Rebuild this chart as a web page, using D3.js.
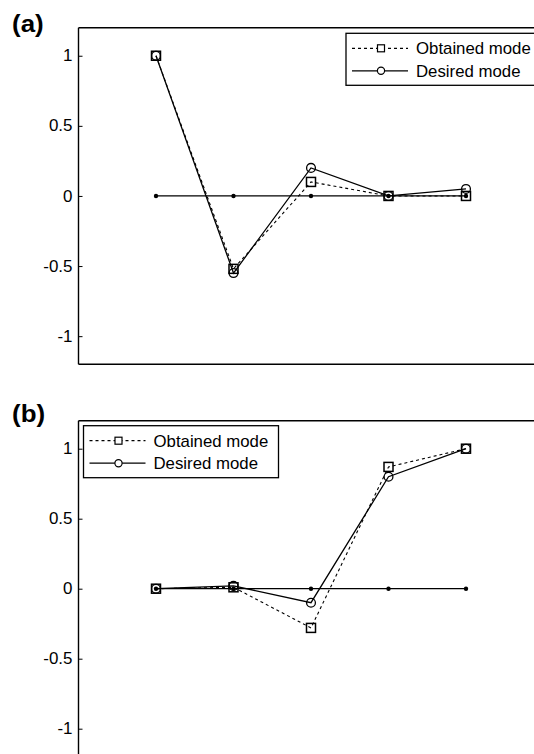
<!DOCTYPE html>
<html>
<head>
<meta charset="utf-8">
<script src="https://cdn.jsdelivr.net/npm/d3@7/dist/d3.min.js"></script>
<style>
  html, body { margin: 0; padding: 0; background: #fff; overflow: hidden; }
  svg { display: block; font-family: "Liberation Sans", Arial, sans-serif; }
</style>
</head>
<body>
<svg id="chart" width="534" height="754"></svg>
<script>
// data
const xIdx = [1, 2, 3, 4, 5];
const yTicks = [-1, -0.5, 0, 0.5, 1];
const yTickLabels = ["-1", "-0.5", "0", "0.5", "1"];
const zeroLine = [0, 0, 0, 0, 0];
const obtainedA = [1, -0.52, 0.10, 0, 0];
const desiredA = [1, -0.55, 0.20, 0, 0.05];
const obtainedB = [0, 0.01, -0.28, 0.87, 1];
const desiredB = [0, 0.02, -0.10, 0.80, 1];
const legendLabels = ["Obtained mode", "Desired mode"];
const panelLabels = ["(a)", "(b)"];

const svg = d3.select("#chart");
const left = 78.5;
const plotW = 465;   // x domain 0..6, right part runs out of the picture
const xScale = d3.scaleLinear().domain([0, 6]).range([0, plotW]);

function drawPanel(o) {
  const y = d3.scaleLinear().domain([-1.2, 1.2]).range([o.height, 0]);
  const g = svg.append("g").attr("transform", "translate(" + left + "," + o.top + ")");

  // frame (top, bottom, left)
  g.append("line").attr("x1", 0).attr("x2", plotW + 20).attr("y1", 0).attr("y2", 0)
    .attr("stroke", "#000").attr("stroke-width", 1.4);
  g.append("line").attr("x1", 0).attr("x2", plotW + 20).attr("y1", o.height).attr("y2", o.height)
    .attr("stroke", "#000").attr("stroke-width", 1.4);

  const ax = g.append("g")
    .call(d3.axisLeft(y).tickValues(yTicks).tickSize(-4).tickSizeOuter(0).tickPadding(6)
      .tickFormat((d, i) => yTickLabels[i]));
  ax.select(".domain").remove();
  g.append("line").attr("x1", 0).attr("x2", 0).attr("y1", 0).attr("y2", o.height)
    .attr("stroke", "#000").attr("stroke-width", 1.4);
  ax.selectAll(".tick line").attr("stroke", "#000").attr("stroke-width", 1);
  ax.selectAll(".tick text")
    .attr("x", 0)
    .attr("transform", "translate(-6,0) scale(1.06,1)")
    .attr("fill", "#000")
    .style("font-size", "16px")
    .style("font-family", "'Liberation Sans', Arial, sans-serif");

  const line = d3.line().x((d, i) => xScale(xIdx[i])).y(d => y(d));

  // zero reference line with dot markers
  g.append("path").datum(zeroLine).attr("d", line)
    .attr("fill", "none").attr("stroke", "#000").attr("stroke-width", 1.3);
  g.selectAll(".zdot").data(zeroLine).enter().append("circle")
    .attr("cx", (d, i) => xScale(xIdx[i])).attr("cy", d => y(d)).attr("r", 2.2)
    .attr("fill", "#000");

  // obtained mode
  g.append("path").datum(o.obtained).attr("d", line)
    .attr("fill", "none").attr("stroke", "#000").attr("stroke-width", 1.1)
    .attr("stroke-dasharray", "3,3");
  g.selectAll(".sq").data(o.obtained).enter().append("rect")
    .attr("x", (d, i) => xScale(xIdx[i]) - 4.5).attr("y", d => y(d) - 4.5)
    .attr("width", 9).attr("height", 9)
    .attr("fill", "none").attr("stroke", "#000").attr("stroke-width", 1.5);

  // desired mode
  g.append("path").datum(o.desired).attr("d", line)
    .attr("fill", "none").attr("stroke", "#000").attr("stroke-width", 1.3);
  g.selectAll(".ci").data(o.desired).enter().append("circle")
    .attr("cx", (d, i) => xScale(xIdx[i])).attr("cy", d => y(d)).attr("r", 4.4)
    .attr("fill", "none").attr("stroke", "#000").attr("stroke-width", 1.3);

  // legend
  const lg = svg.append("g").attr("transform", "translate(" + o.legX + "," + o.legY + ")");
  lg.append("rect").attr("x", 0).attr("y", 0).attr("width", o.legW).attr("height", 52)
    .attr("fill", "#fff").attr("stroke", "#000").attr("stroke-width", 1.3);
  const rows = [15, 37.5];
  legendLabels.forEach((lab, i) => {
    const ly = rows[i];
    lg.append("line").attr("x1", 6).attr("x2", 62).attr("y1", ly).attr("y2", ly)
      .attr("stroke", "#000").attr("stroke-width", 1.2)
      .attr("stroke-dasharray", i === 0 ? "3,3" : null);
    if (i === 0) {
      lg.append("rect").attr("x", 35 - 3.5).attr("y", ly - 3.5).attr("width", 7).attr("height", 7)
        .attr("fill", "#fff").attr("stroke", "#000").attr("stroke-width", 1.2);
    } else {
      lg.append("circle").attr("cx", 35).attr("cy", ly).attr("r", 3.6)
        .attr("fill", "#fff").attr("stroke", "#000").attr("stroke-width", 1.2);
    }
    lg.append("text")
      .attr("transform", "translate(70," + (ly + 5.8) + ") scale(1.05,1)")
      .style("font-size", "16px").attr("fill", "#000").text(lab);
  });

  // panel label
  svg.append("text")
    .attr("transform", "translate(" + o.labX + "," + o.labY + ") scale(1.08,1)")
    .style("font-size", "24px").style("font-weight", "bold").attr("fill", "#000")
    .text(o.label);
}

drawPanel({ top: 27.7, height: 336.5, obtained: obtainedA, desired: desiredA,
  legX: 346, legY: 33.3, legW: 200, labX: 12, labY: 32, label: panelLabels[0] });
drawPanel({ top: 420.7, height: 336, obtained: obtainedB, desired: desiredB,
  legX: 83.5, legY: 425.7, legW: 195, labX: 12, labY: 421.5, label: panelLabels[1] });
</script>
</body>
</html>
